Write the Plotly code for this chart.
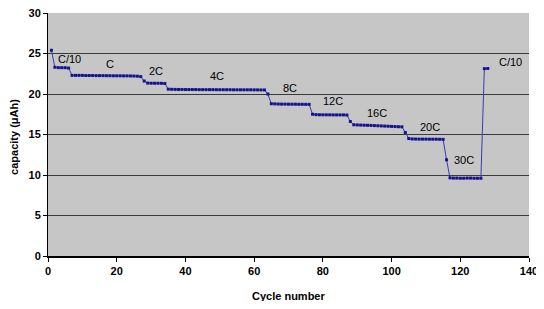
import plotly.graph_objects as go

cycles = list(range(1, 129))
capacity = (
    [25.4]
    + [23.3, 23.25, 23.25, 23.25, 23.2]                      # C/10 (2-6)
    + [22.3, 22.3, 22.3, 22.3, 22.28, 22.28, 22.28, 22.27, 22.27, 22.27, 22.26,
       22.26, 22.25, 22.25, 22.25, 22.24, 22.24, 22.23, 22.22, 22.2, 22.15]   # C (7-27)
    + [21.6, 21.35, 21.33, 21.33, 21.33, 21.32, 21.3]       # 2C (28-34)
    + [20.6, 20.58, 20.57, 20.56, 20.56, 20.55, 20.55, 20.55, 20.55, 20.54,
       20.54, 20.54, 20.54, 20.54, 20.53, 20.53, 20.53, 20.53, 20.53, 20.52,
       20.52, 20.52, 20.52, 20.52, 20.52, 20.51, 20.51, 20.5, 20.5, 20.0]     # 4C (35-64)
    + [18.8, 18.78, 18.76, 18.75, 18.75, 18.74, 18.74, 18.74, 18.73, 18.73,
       18.72, 18.72]                                           # 8C (65-76)
    + [17.5, 17.45, 17.44, 17.43, 17.43, 17.43, 17.42, 17.42, 17.42, 17.42,
       17.4]                                                   # 12C (77-87)
    + [16.6, 16.2, 16.18, 16.16, 16.15, 16.14, 16.12, 16.1, 16.08, 16.06,
       16.04, 16.02, 16.0, 15.98, 15.96, 15.95]                # 16C (88-103)
    + [15.25]
    + [14.5, 14.45, 14.44, 14.43, 14.43, 14.43, 14.42, 14.42, 14.42, 14.41,
       14.4]                                                   # 20C (105-115)
    + [11.88]
    + [9.65, 9.62, 9.62, 9.6, 9.6, 9.62, 9.62, 9.6, 9.6, 9.6]   # 30C (117-126)
    + [23.13, 23.15]                                           # C/10 (127-128)
)

rate_labels = ["C/10", "C", "2C", "4C", "8C", "12C", "16C", "20C", "30C", "C/10"]
label_x = [6.4, 17.9, 31.5, 49.1, 70.4, 82.9, 95.8, 111.1, 121.2, 134.5]
label_y = [24.3, 23.7, 22.8, 22.2, 20.8, 19.1, 17.6, 15.9, 11.8, 23.9]

x_ticks = [0, 20, 40, 60, 80, 100, 120, 140]
y_ticks = [0, 5, 10, 15, 20, 25, 30]
x_title = "Cycle number"
y_title = "capacity (μAh)"

FONT = "Arial, Liberation Sans, sans-serif"

fig = go.Figure()
fig.add_trace(go.Scatter(
    x=cycles, y=capacity, mode="lines+markers",
    line=dict(color="#3b3bb0", width=1),
    marker=dict(color="#14148c", size=3, symbol="square"),
    showlegend=False,
))

for t, xx, yy in zip(rate_labels, label_x, label_y):
    fig.add_annotation(x=xx, y=yy, text=t, showarrow=False,
                       font=dict(family=FONT, size=11, color="black"))

# axis titles placed as paper annotations
fig.add_annotation(xref="paper", yref="paper", x=0.5, y=0, yshift=-40,
                   text=x_title, showarrow=False, yanchor="middle",
                   font=dict(family=FONT, size=11, color="black", weight="bold"))
fig.add_annotation(xref="paper", yref="paper", x=0, y=0.49, xshift=-34,
                   text=y_title, showarrow=False, textangle=-90, xanchor="center",
                   font=dict(family=FONT, size=11, color="black", weight="bold"))

# the page body has an 8px default margin, so the figure is sized to fit the window
fig.update_layout(
    width=536, height=293,
    margin=dict(l=40, r=15, t=5, b=45),
    paper_bgcolor="white",
    plot_bgcolor="#c6c6c6",
    font=dict(family=FONT, color="black"),
)
fig.update_xaxes(
    range=[0, 140], tickvals=x_ticks, showgrid=False, zeroline=False,
    showline=True, linecolor="black", linewidth=1.5, automargin=False,
    ticks="outside", ticklen=4, tickcolor="black", ticklabeloverflow="allow",
    tickfont=dict(family=FONT, size=11, weight="bold"),
)
fig.update_yaxes(
    range=[0, 30], tickvals=y_ticks, showgrid=True, gridcolor="#3a3a3a", gridwidth=1,
    zeroline=False, showline=True, linecolor="black", linewidth=1, automargin=False,
    ticks="outside", ticklen=4, tickcolor="black", ticklabeloverflow="allow",
    tickfont=dict(family=FONT, size=11, weight="bold"),
)

fig.write_html("out.html")
